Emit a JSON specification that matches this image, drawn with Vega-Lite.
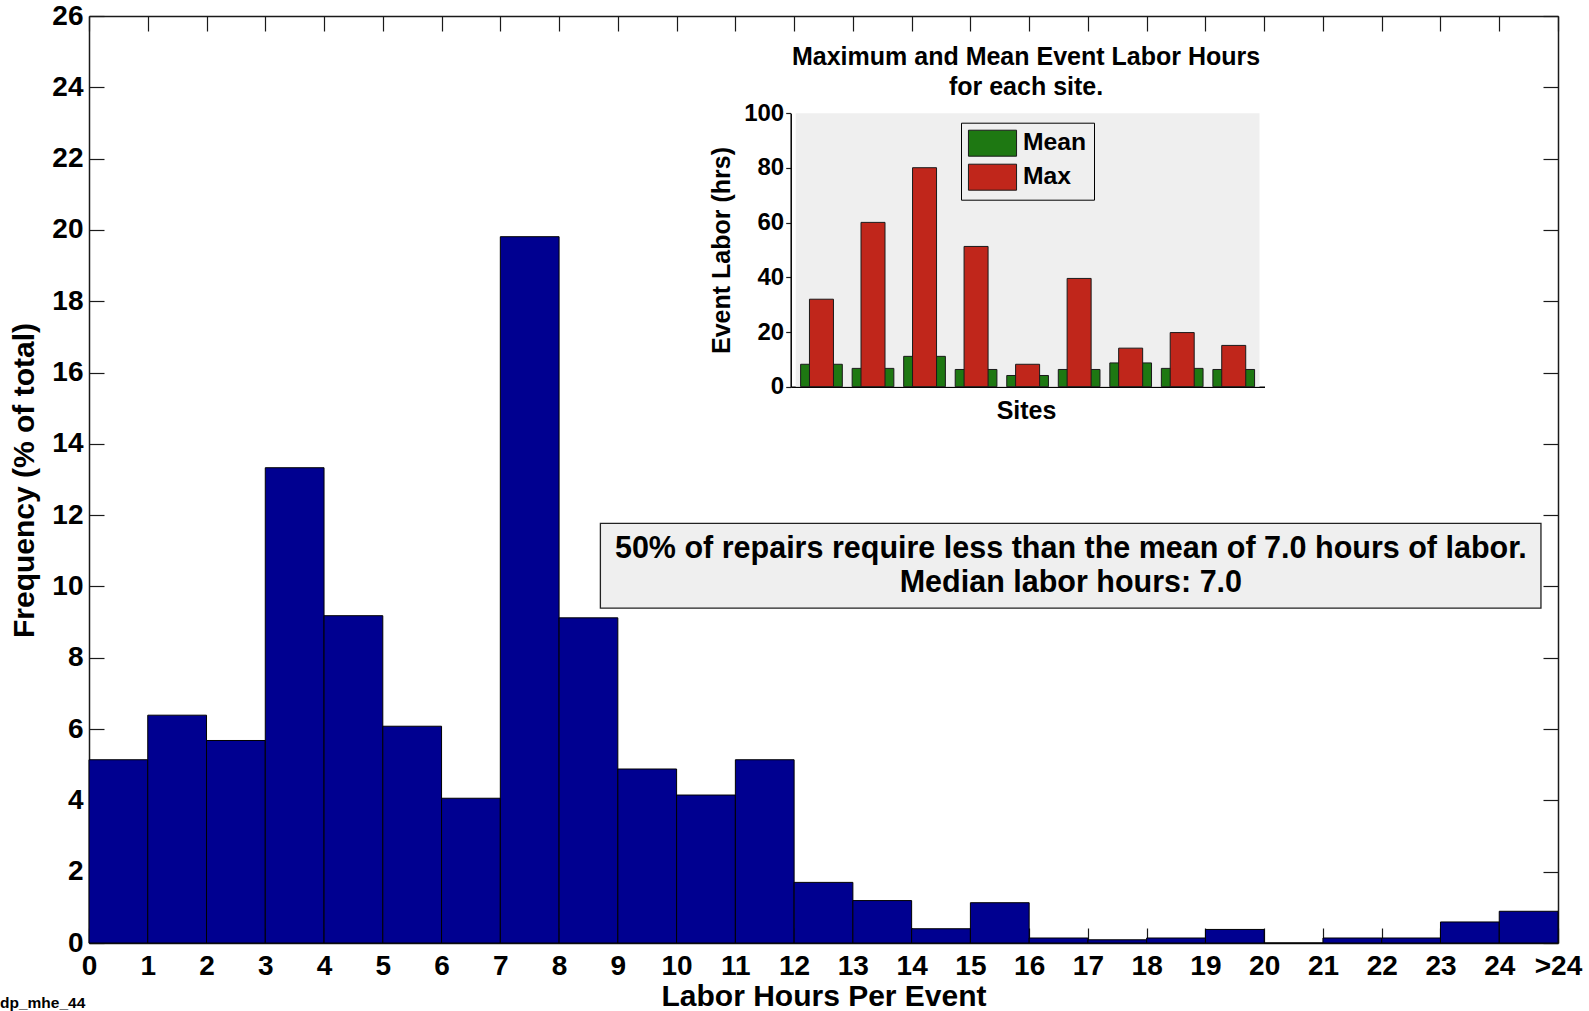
{
  "$schema": "https://vega.github.io/schema/vega-lite/v6.json",
  "width": 1469,
  "height": 927,
  "autosize": {"type": "none"},
  "padding": {"left": 89, "top": 16, "right": 31, "bottom": 68},
  "background": "white",
  "config": {
    "font": "Liberation Sans",
    "view": {"stroke": null},
    "axis": {
      "labelFont": "Liberation Sans",
      "titleFont": "Liberation Sans",
      "labelFontWeight": "bold",
      "titleFontWeight": "bold",
      "labelColor": "#000",
      "titleColor": "#000",
      "domainColor": "#1a1a1a",
      "tickColor": "#1a1a1a",
      "domainWidth": 1.5,
      "tickWidth": 1.2,
      "grid": false
    }
  },
  "datasets": {
    "hist": [
      {"lo": 0, "hi": 1, "pct": 5.14},
      {"lo": 1, "hi": 2, "pct": 6.39},
      {"lo": 2, "hi": 3, "pct": 5.68},
      {"lo": 3, "hi": 4, "pct": 13.33},
      {"lo": 4, "hi": 5, "pct": 9.18},
      {"lo": 5, "hi": 6, "pct": 6.08},
      {"lo": 6, "hi": 7, "pct": 4.06},
      {"lo": 7, "hi": 8, "pct": 19.81},
      {"lo": 8, "hi": 9, "pct": 9.12},
      {"lo": 9, "hi": 10, "pct": 4.88},
      {"lo": 10, "hi": 11, "pct": 4.15},
      {"lo": 11, "hi": 12, "pct": 5.14},
      {"lo": 12, "hi": 13, "pct": 1.7},
      {"lo": 13, "hi": 14, "pct": 1.19},
      {"lo": 14, "hi": 15, "pct": 0.4},
      {"lo": 15, "hi": 16, "pct": 1.13},
      {"lo": 16, "hi": 17, "pct": 0.14},
      {"lo": 17, "hi": 18, "pct": 0.09},
      {"lo": 18, "hi": 19, "pct": 0.14},
      {"lo": 19, "hi": 20, "pct": 0.38},
      {"lo": 20, "hi": 21, "pct": 0},
      {"lo": 21, "hi": 22, "pct": 0.14},
      {"lo": 22, "hi": 23, "pct": 0.14},
      {"lo": 23, "hi": 24, "pct": 0.59},
      {"lo": 24, "hi": 25, "pct": 0.89}
    ],
    "sites": [
      {"site": 1, "mean": 8.2, "max": 32.0},
      {"site": 2, "mean": 6.7, "max": 60.1},
      {"site": 3, "mean": 11.1, "max": 80.1},
      {"site": 4, "mean": 6.3, "max": 51.3},
      {"site": 5, "mean": 4.1, "max": 8.2},
      {"site": 6, "mean": 6.3, "max": 39.6},
      {"site": 7, "mean": 8.7, "max": 14.1},
      {"site": 8, "mean": 6.7, "max": 19.8},
      {"site": 9, "mean": 6.3, "max": 15.1}
    ]
  },
  "layer": [
    {
      "layer": [
        {
          "data": {"name": "hist"},
          "mark": {"type": "rect", "fill": "#000090", "stroke": "#000000", "strokeWidth": 1},
          "encoding": {
            "x": {
              "field": "lo",
              "type": "quantitative",
              "scale": {"domain": [0, 25], "nice": false, "zero": false},
              "axis": {
                "orient": "bottom",
                "values": [0, 1, 2, 3, 4, 5, 6, 7, 8, 9, 10, 11, 12, 13, 14, 15, 16, 17, 18, 19, 20, 21, 22, 23, 24, 25],
                "tickSize": -15,
                "labelFontSize": 28,
                "labelBaseline": "alphabetic",
                "labelPadding": 46.5,
                "labelFlush": false,
                "labelOverlap": false,
                "labelBound": false,
                "labelExpr": "datum.value == 25 ? '>24' : datum.label",
                "title": "Labor Hours Per Event",
                "titleFontSize": 30,
                "titleBaseline": "alphabetic",
                "titleY": 62.5
              }
            },
            "x2": {"field": "hi"},
            "y": {
              "field": "pct",
              "type": "quantitative",
              "scale": {"domain": [0, 26], "nice": false},
              "axis": {
                "orient": "left",
                "values": [0, 2, 4, 6, 8, 10, 12, 14, 16, 18, 20, 22, 24, 26],
                "tickSize": -15,
                "labelFontSize": 28,
                "labelPadding": 21,
                "labelFlush": false,
                "labelOverlap": false,
                "title": "Frequency (% of total)",
                "titleFontSize": 30,
                "titleBaseline": "alphabetic",
                "titleX": -56,
                "titleY": 464
              }
            },
            "y2": {"datum": 0}
          }
        },
        {
          "data": {"name": "hist"},
          "mark": {"type": "point", "opacity": 0},
          "encoding": {
            "x": {
              "field": "lo",
              "type": "quantitative",
              "scale": {"domain": [0, 25], "nice": false, "zero": false},
              "axis": {
                "orient": "top",
                "values": [0, 1, 2, 3, 4, 5, 6, 7, 8, 9, 10, 11, 12, 13, 14, 15, 16, 17, 18, 19, 20, 21, 22, 23, 24, 25],
                "tickSize": -15,
                "labels": false,
                "title": null
              }
            },
            "y": {
              "field": "pct",
              "type": "quantitative",
              "scale": {"domain": [0, 26], "nice": false},
              "axis": {
                "orient": "right",
                "values": [0, 2, 4, 6, 8, 10, 12, 14, 16, 18, 20, 22, 24, 26],
                "tickSize": -15,
                "labels": false,
                "title": null
              }
            }
          }
        },
        {
          "data": {"values": [{}]},
          "mark": {"type": "rect", "fill": "#efefef", "stroke": "#222222", "strokeWidth": 1.3},
          "encoding": {
            "x": {"datum": 8.703, "type": "quantitative", "axis": null},
            "x2": {"datum": 24.71},
            "y": {"datum": 11.77, "type": "quantitative", "axis": null},
            "y2": {"datum": 9.39}
          }
        },
        {
          "data": {"values": [{}]},
          "mark": {
            "type": "text",
            "text": ["50% of repairs require less than the mean of 7.0 hours of labor.", "Median labor hours: 7.0"],
            "font": "Liberation Sans",
            "fontSize": 30.5,
            "fontWeight": "bold",
            "color": "#000",
            "align": "center",
            "baseline": "alphabetic",
            "lineHeight": 34.5
          },
          "encoding": {
            "x": {"datum": 16.71, "type": "quantitative", "axis": null},
            "y": {"datum": 10.8, "type": "quantitative", "axis": null}
          }
        },
        {
          "data": {"values": [{}]},
          "mark": {
            "type": "text",
            "text": "dp_mhe_44",
            "font": "Liberation Sans",
            "fontSize": 15.5,
            "fontWeight": "bold",
            "color": "#000",
            "align": "left",
            "baseline": "alphabetic"
          },
          "encoding": {
            "x": {"datum": -1.515, "type": "quantitative", "axis": null},
            "y": {"datum": -1.83, "type": "quantitative", "axis": null}
          }
        }
      ],
      "resolve": {"axis": {"x": "independent", "y": "independent"}}
    },
    {
      "layer": [
        {
          "data": {"values": [{}]},
          "mark": {"type": "rect", "fill": "#efefef"},
          "encoding": {
            "x": {
              "datum": 0.5,
              "type": "quantitative",
              "scale": {"domain": [0.5, 9.5], "range": [701.7, 1175.5], "nice": false, "zero": false},
              "axis": {
                "orient": "bottom",
                "offset": -556.3,
                "ticks": false,
                "labels": false,
                "domainColor": "#000000",
                "title": "Sites",
                "titleFontSize": 25,
                "titleBaseline": "alphabetic",
                "titleX": 937,
                "titleY": 31.3
              }
            },
            "x2": {"datum": 9.5},
            "y": {
              "datum": 0,
              "type": "quantitative",
              "scale": {"domain": [0, 100], "range": [370.7, 97.3], "nice": false},
              "axis": {
                "orient": "left",
                "offset": -701.7,
                "values": [0, 20, 40, 60, 80, 100],
                "tickSize": 5,
                "labelFontSize": 24,
                "labelPadding": 2,
                "labelFlush": false,
                "labelOverlap": false,
                "domainColor": "#000000",
                "title": "Event Labor (hrs)",
                "titleFontSize": 25,
                "titleBaseline": "alphabetic",
                "titleX": -61.7,
                "titleY": 234
              }
            },
            "y2": {"datum": 100}
          }
        },
        {
          "data": {"name": "sites"},
          "mark": {"type": "bar", "orient": "vertical", "size": 41.7, "stroke": "#1a1a1a", "strokeWidth": 1},
          "encoding": {
            "x": {"field": "site", "type": "quantitative"},
            "y": {"field": "mean", "type": "quantitative"},
            "color": {
              "datum": "Mean",
              "type": "nominal",
              "scale": {"domain": ["Mean", "Max"], "range": ["#1e7812", "#c0261b"]},
              "legend": {
                "orient": "none",
                "legendX": 872,
                "legendY": 106.7,
                "title": null,
                "padding": 7,
                "fillColor": "#efefef",
                "strokeColor": "#000000",
                "symbolType": "M-1.85,-1H1.85V1H-1.85Z",
                "symbolSize": 676,
                "symbolOffset": 11,
                "symbolStrokeColor": "#1a1a1a",
                "symbolStrokeWidth": 1,
                "symbolOpacity": 1,
                "labelOffset": 17,
                "labelFont": "Liberation Sans",
                "labelFontSize": 24.7,
                "labelFontWeight": "bold",
                "labelColor": "#000",
                "rowPadding": 3
              }
            }
          }
        },
        {
          "data": {"name": "sites"},
          "mark": {"type": "bar", "orient": "vertical", "size": 24, "stroke": "#1a1a1a", "strokeWidth": 1},
          "encoding": {
            "x": {"field": "site", "type": "quantitative"},
            "y": {"field": "max", "type": "quantitative"},
            "color": {"datum": "Max", "type": "nominal"}
          }
        },
        {
          "data": {"values": [{}]},
          "mark": {
            "type": "text",
            "text": ["Maximum and Mean Event Labor Hours", "for each site."],
            "font": "Liberation Sans",
            "fontSize": 25,
            "fontWeight": "bold",
            "color": "#000",
            "align": "center",
            "baseline": "alphabetic",
            "lineHeight": 30
          },
          "encoding": {
            "x": {"datum": 4.97, "type": "quantitative"},
            "y": {"datum": 117.7, "type": "quantitative"}
          }
        }
      ]
    }
  ],
  "resolve": {"scale": {"x": "independent", "y": "independent"}}
}
